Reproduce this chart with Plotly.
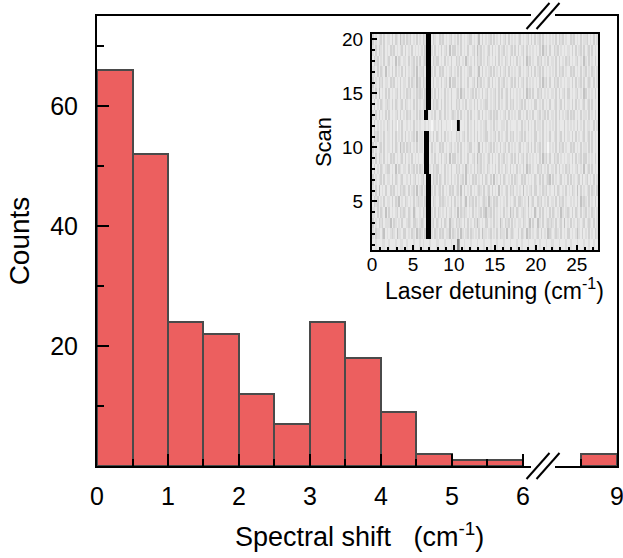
import plotly.graph_objects as go

# Histogram of spectral shifts (bins of 0.5 cm^-1)
bin_left = [0.0, 0.5, 1.0, 1.5, 2.0, 2.5, 3.0, 3.5, 4.0, 4.5, 5.0, 5.5]
counts = [66, 52, 24, 22, 12, 7, 24, 18, 9, 2, 1, 1]
# bins beyond the axis break
far_bin_left = [8.5]
far_counts = [2]
bin_width = 0.5

x_ticks_near = [0, 1, 2, 3, 4, 5, 6]
x_ticks_far = [9]
y_ticks = [20, 40, 60]

# Inset: detuning scans, one string per scan (scan 1 first), 0.2 cm^-1 per column.
# Digits are grey levels: 0 = black (resonance), 9 = lightest.
detuning_step = 0.2
scan_rows = [
    "8878887788 7888788778 8788878887 8788878887 7888788878 8834887888 7888788878 8878887888 7888788878 8788878887 8878887887 7888788878 8788878887 88788788",
    "7867786587 8767857786 6878678576 7860007867 8676877586 7868578768 6787868577 8768786867 7858767886 8678576878 7686878567 8767868786 6878757868 78687867",
    "6878676877 7586787868 8767866787 6780007686 7868678577 8676786868 7867578786 6878687857 8676868787 7867875868 8578687676 7868768587 8687867876 87678687",
    "7786867858 6878768676 7867857887 8670007868 6787868768 7858676787 8687876865 7768687878 6878576867 8767868785 7868687868 6787857876 7868678687 68786787",
    "8676878687 7868675878 6787868767 7860008678 8676787868 6878687586 7686878767 8578676878 7868787686 6787858768 8676878687 7868676878 8787868576 78687868",
    "7868587868 8676878676 7868768587 6870007868 7686878676 8768586878 6878767868 7686878587 8768676878 7858787686 6878676878 8686787868 7867858687 87686786",
    "6878768687 7868678768 8786876878 7680008676 8678687868 7868768587 8676878686 7868587868 6787868678 8676878786 7868687658 6878768786 8687876868 76878687",
    "8687867876 6878586787 7868768686 7800078676 6878687868 8676878578 7868676878 6787868687 8678687868 7868576878 8676878687 7868687867 6878768785 87686878",
    "7868678687 8676878768 6878687878 8700087868 7868768586 6878687868 8768576878 7686878687 6878768686 8768687878 7868576868 8676878787 7868687686 68787868",
    "6878768687 7868678576 8676878687 7800086878 8676878768 7868687876 6878758687 8768687868 7686878787 6878768686 8768687978 7868676878 8676878687 78686878",
    "8676878687 7868687868 6878768587 7800078686 7868687878 8676876868 7868687876 6878768687 8768676878 7686878786 6878687868 8768768687 7868687876 87686878",
    "8687878786 7868797868 8787868787 8878789878 7868878898 8701887868 7868787876 8878687887 7868788878 8687868786 8778687878 7868788687 8787868786 87788687",
    "7868687868 6878768687 8676878686 7800787868 8678687876 7868687868 6878768687 8768676878 7686878786 6878687868 8768768687 7868687876 8676878687 78687868",
    "8687867876 7868678768 6787868687 8760008676 7868687868 8676878687 7868687876 6878768687 8768676878 7686878786 6878687868 8768768687 7868687876 87686878",
    "7868587868 6878768687 8676878676 7860007868 6878687868 8768576878 7686878687 6878768686 8768687878 7868576868 8676878787 7868687686 6878768785 68787868",
    "6878676877 8676878687 7868678576 8670008687 7868768586 6878687868 8768576878 7686878687 6878768686 8768687878 7868576868 8676878787 7868687686 87678687",
    "7786867858 7868687868 6878768587 7680007868 8676878768 7868687876 6878758687 8768687868 7686878787 6878768686 8768687878 7868676878 8676878687 68786787",
    "8676878687 6878586787 7868768686 8760008676 6878687868 8676878578 7868676878 6787868687 8678687868 7868576878 8676878687 7868687867 6878768785 78687868",
    "7868678687 8676878768 6878687878 7860007868 7868768586 6878687868 8768576878 7686878687 6878768686 8768687878 7868576868 8676878787 7868687686 87686878",
    "6878768687 7868678576 8676878687 8670008678 8676878768 7868687876 6878758687 8768687868 7686878787 6878768686 8768687878 7868676878 8676878687 76878687",
]
gray_levels = [0, 48, 100, 140, 172, 194, 210, 222, 233, 246]

z = [[int(c) for c in row.replace(" ", "")] for row in scan_rows]
n_cols = len(z[0])
detuning = [detuning_step * (i + 0.5) for i in range(n_cols)]
scans = list(range(1, len(z) + 1))
colorscale = [[k / 9, f"rgb({g},{g},{g})"] for k, g in enumerate(gray_levels)]

FONT = "Liberation Sans, Arial, sans-serif"
BAR_FILL = "#ec5f5f"
BAR_EDGE = "#4a4a4a"
SP = "\u00a0"

fig = go.Figure()
fig.add_trace(go.Bar(
    x=[b + bin_width / 2 for b in bin_left], y=counts, width=bin_width,
    marker=dict(color=BAR_FILL, line=dict(color=BAR_EDGE, width=2)),
    xaxis="x", yaxis="y", showlegend=False))
fig.add_trace(go.Bar(
    x=[b + bin_width / 2 for b in far_bin_left], y=far_counts, width=bin_width,
    marker=dict(color=BAR_FILL, line=dict(color=BAR_EDGE, width=2)),
    xaxis="x2", yaxis="y2", showlegend=False))
fig.add_trace(go.Heatmap(
    x=detuning, y=scans, z=z, zmin=0, zmax=9, colorscale=colorscale,
    showscale=False, xaxis="x3", yaxis="y3", hoverinfo="skip"))

# plot-area geometry (pixels)
W, H = 623, 558
ml, mr, mt, mb = 97, 6, 16, 92
pw, ph = W - ml - mr, H - mt - mb
near_end = 0.8346
far_start = 0.8808
inset_x = [(372 - ml) / pw, (598 - ml) / pw]
inset_y = [(466 - 250) / ph, (466 - 34) / ph]

axis_common = dict(showline=True, linecolor="black", linewidth=2, showgrid=False,
                   zeroline=False, ticks="inside", tickcolor="black", tickwidth=2,
                   ticklen=12, automargin=False,
                   tickfont=dict(family=FONT, size=25, color="black"))

fig.update_layout(
    width=W, height=H, margin=dict(l=ml, r=mr, t=mt, b=mb),
    paper_bgcolor="white", plot_bgcolor="rgba(0,0,0,0)",
    bargap=0, font=dict(family=FONT, color="black"),
    xaxis=dict(axis_common, domain=[0, near_end], range=[0, 6.113], anchor="y",
               mirror=True, tickvals=x_ticks_near, ticklabelstandoff=7,
               minor=dict(tickvals=[v + 0.5 for v in x_ticks_near[:-1]], ticks="inside",
                          ticklen=7, tickwidth=2, tickcolor="black")),
    xaxis2=dict(axis_common, domain=[far_start, 1], range=[8.127, 9.0005], anchor="y2",
                mirror=True, tickvals=x_ticks_far, ticklabelstandoff=7,
                ticklabeloverflow="allow",
                minor=dict(tickvals=[8.5], ticks="inside", ticklen=7, tickwidth=2,
                           tickcolor="black")),
    yaxis=dict(axis_common, domain=[0, 1], range=[0, 75], anchor="x",
               tickvals=y_ticks, ticklabelstandoff=12,
               minor=dict(tickvals=[10, 30, 50, 70], ticks="inside", ticklen=7,
                          tickwidth=2, tickcolor="black"),
               title=dict(text="Counts", font=dict(family=FONT, size=28), standoff=12)),
    yaxis2=dict(domain=[0, 1], range=[0, 75], anchor="x2", side="right",
                showline=True, linecolor="black", linewidth=2, showgrid=False,
                zeroline=False, ticks="", showticklabels=False, automargin=False),
    xaxis3=dict(domain=inset_x, range=[0, n_cols * detuning_step],
                anchor="y3", showline=True, mirror=True, linecolor="black", linewidth=2,
                showgrid=False, zeroline=False, ticks="inside", ticklen=5, tickwidth=1.5,
                tickcolor="black", dtick=5, tick0=0, ticklabelstandoff=-4, automargin=False,
                tickfont=dict(family=FONT, size=19, color="black"),
                minor=dict(dtick=1, ticks="inside", ticklen=3, tickwidth=1.5,
                           tickcolor="black")),
    yaxis3=dict(domain=inset_y, range=[0.5, 20.5],
                anchor="x3", showline=True, mirror=True, linecolor="black", linewidth=2,
                showgrid=False, zeroline=False, ticks="inside", ticklen=5, tickwidth=1.5,
                tickcolor="black", tickvals=[5, 10, 15, 20], ticklabelstandoff=3,
                automargin=False,
                tickfont=dict(family=FONT, size=19, color="black"),
                minor=dict(dtick=1, tick0=0, ticks="inside", ticklen=3, tickwidth=1.5,
                           tickcolor="black"),
                title=dict(text="Scan", font=dict(family=FONT, size=22), standoff=4)),
)

# x-axis title, centred under the whole (broken) axis
fig.add_annotation(text=f"Spectral shift{SP}{SP}{SP}(cm<sup>-1</sup>)", xref="paper",
                   yref="paper", x=0.505, y=-0.11, xanchor="center", yanchor="top",
                   showarrow=False, font=dict(family=FONT, size=27, color="black"))

# inset x-axis title
fig.add_annotation(text="Laser detuning (cm<sup>-1</sup>)", xref="paper", yref="paper",
                   x=(494 - ml) / pw, y=(466 - 289) / ph, xanchor="center",
                   yanchor="middle", showarrow=False,
                   font=dict(family=FONT, size=23, color="black"))

# axis-break marks "//" on the top and bottom frame lines
gap_mid = (near_end + far_start) / 2
for y_mid in (0.0, 1.0):
    for dx in (-5, 5):
        cx = gap_mid + dx / pw
        fig.add_shape(type="line", xref="paper", yref="paper",
                      x0=cx - 11.5 / pw, y0=y_mid - 13 / ph,
                      x1=cx + 11.5 / pw, y1=y_mid + 13 / ph,
                      line=dict(color="black", width=2))

fig.write_html("out.html")
